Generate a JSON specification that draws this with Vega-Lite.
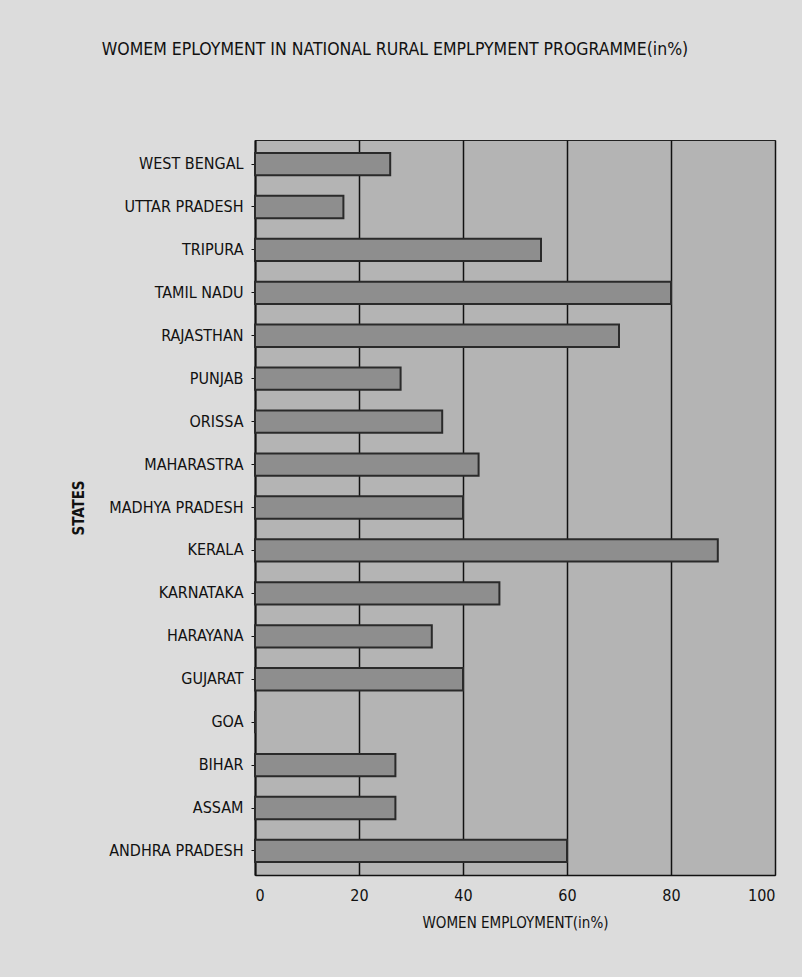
{
  "$schema": "https://vega.github.io/schema/vega-lite/v6.json",
  "autosize": "none",
  "width": 520,
  "height": 735,
  "padding": {"left": 255, "top": 140, "right": 27, "bottom": 102},
  "background": "#dcdcdc",
  "title": {
    "text": "WOMEM EPLOYMENT IN NATIONAL RURAL EMPLPYMENT PROGRAMME(in%)",
    "anchor": "start",
    "dx": 30,
    "offset": 82,
    "font": "DejaVu Sans Condensed, DejaVu Sans, sans-serif",
    "fontSize": 17.5,
    "fontWeight": "normal",
    "color": "#111"
  },
  "config": {
    "view": {"fill": "#b4b4b4", "stroke": "#222", "strokeWidth": 1},
    "axis": {
      "labelFont": "DejaVu Sans Condensed, DejaVu Sans, sans-serif",
      "titleFont": "DejaVu Sans Condensed, DejaVu Sans, sans-serif",
      "labelColor": "#111",
      "titleColor": "#111",
      "labelFontSize": 16,
      "titleFontSize": 15,
      "titleFontWeight": "normal",
      "domainColor": "#111",
      "tickColor": "#111"
    }
  },
  "data": {
    "values": [
      {"state": "WEST BENGAL", "value": 26},
      {"state": "UTTAR PRADESH", "value": 17},
      {"state": "TRIPURA", "value": 55},
      {"state": "TAMIL NADU", "value": 80},
      {"state": "RAJASTHAN", "value": 70},
      {"state": "PUNJAB", "value": 28},
      {"state": "ORISSA", "value": 36},
      {"state": "MAHARASTRA", "value": 43},
      {"state": "MADHYA PRADESH", "value": 40},
      {"state": "KERALA", "value": 89},
      {"state": "KARNATAKA", "value": 47},
      {"state": "HARAYANA", "value": 34},
      {"state": "GUJARAT", "value": 40},
      {"state": "GOA", "value": 0},
      {"state": "BIHAR", "value": 27},
      {"state": "ASSAM", "value": 27},
      {"state": "ANDHRA PRADESH", "value": 60}
    ]
  },
  "mark": {"type": "bar", "fill": "#8e8e8e", "stroke": "#2a2a2a", "strokeWidth": 2},
  "encoding": {
    "y": {
      "field": "state",
      "type": "nominal",
      "sort": null,
      "scale": {"paddingInner": 0.48, "paddingOuter": 0.3},
      "axis": {"title": "STATES", "titleFontSize": 15, "titleFontWeight": "bold", "titlePadding": 22, "labelPadding": 8, "tickSize": 4, "domainWidth": 2}
    },
    "x": {
      "field": "value",
      "type": "quantitative",
      "scale": {"domain": [0, 100], "nice": false},
      "axis": {
        "title": "WOMEN EMPLOYMENT(in%)",
        "values": [0, 20, 40, 60, 80, 100],
        "grid": true,
        "gridColor": "#111",
        "gridWidth": 1.5,
        "gridOpacity": 1,
        "tickSize": 0,
        "labelPadding": 12,
        "titlePadding": 12,
        "domainWidth": 1.5
      }
    }
  }
}
